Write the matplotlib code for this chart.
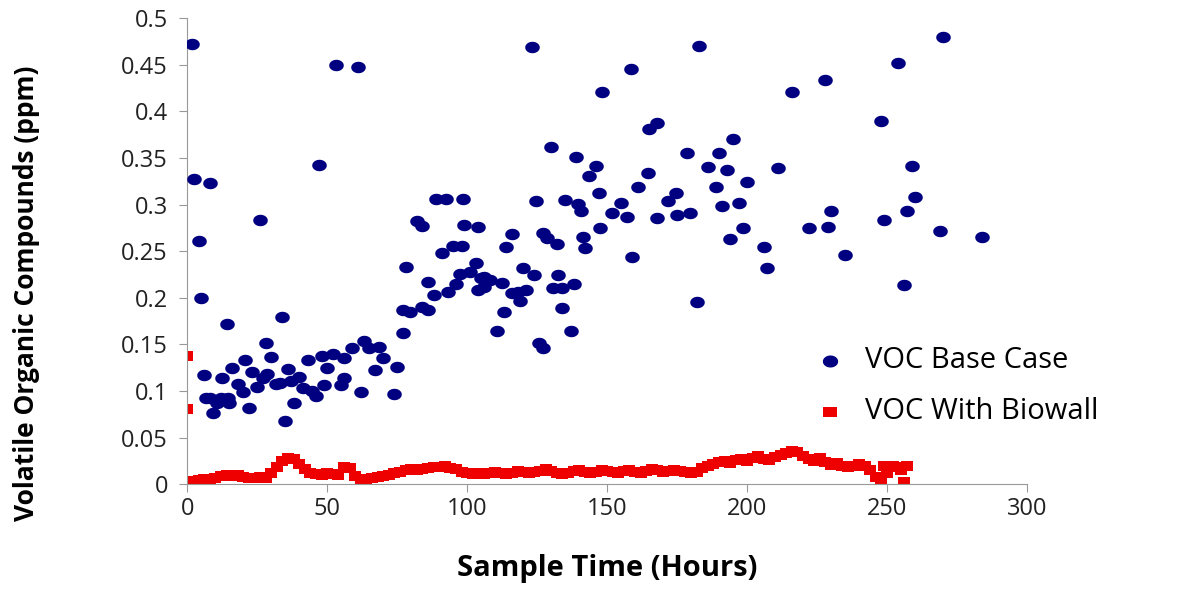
import matplotlib.pyplot as plt
from matplotlib.path import Path
import numpy as np

plt.rcParams['font.family'] = ['Open Sans', 'DejaVu Sans']

# VOC base case (hours, ppm)
base_t = [1.5, 2.5, 8, 4, 5, 26, 47, 53, 61, 14, 34, 28, 30, 6, 12.5, 20.7, 16, 23, 28.5, 36,
          43, 48, 52, 50, 56, 59, 63, 65, 68.5, 70, 67, 75, 74, 62, 56, 55, 49, 46, 41.5, 40,
          38, 35, 31.5, 25, 20, 22, 18, 14.6, 12, 8, 9, 6.5, 10.6, 15, 33, 37, 27, 44.6, 78, 77,
          79.6, 84, 86, 86, 88, 93, 96, 97.5, 77, 91, 89, 92.5, 98.6, 82, 84, 99, 95, 98, 104, 116,
          114, 103, 101, 105, 108, 112.5, 106, 104, 118, 120, 119, 113, 123, 183, 158.6, 148, 168, 165, 195, 130,
          178.6, 190, 139, 146, 186, 193, 143.6, 164.6, 200, 161, 189, 147, 174.6, 171.8, 124.6, 135, 139.6, 155, 197, 191,
          140.7, 151.8, 157, 168, 175, 179.6, 127, 128.5, 147.5, 141.4, 142, 132, 198.6, 194, 159, 124, 132.5, 130.7, 134, 138,
          121, 134, 137, 125.5, 127, 182, 106, 116, 110.7, 270, 254, 228, 216, 248, 211, 259, 260, 230, 257, 249,
          222, 229, 269, 284, 206, 235, 207, 256]
base_voc = [0.472, 0.327, 0.323, 0.261, 0.200, 0.284, 0.342, 0.450, 0.448, 0.172, 0.179, 0.152, 0.136, 0.117, 0.114, 0.133, 0.125, 0.120, 0.118, 0.124,
            0.133, 0.138, 0.140, 0.125, 0.135, 0.146, 0.154, 0.146, 0.147, 0.135, 0.123, 0.126, 0.097, 0.099, 0.114, 0.106, 0.106, 0.095, 0.103, 0.115,
            0.087, 0.068, 0.108, 0.104, 0.099, 0.082, 0.108, 0.092, 0.093, 0.093, 0.076, 0.093, 0.087, 0.087, 0.109, 0.111, 0.114, 0.100, 0.233, 0.187,
            0.185, 0.190, 0.187, 0.217, 0.203, 0.206, 0.215, 0.226, 0.162, 0.248, 0.306, 0.306, 0.306, 0.282, 0.277, 0.278, 0.256, 0.256, 0.276, 0.269,
            0.254, 0.237, 0.228, 0.221, 0.219, 0.216, 0.212, 0.208, 0.206, 0.232, 0.197, 0.185, 0.469, 0.470, 0.446, 0.421, 0.388, 0.381, 0.370, 0.362,
            0.355, 0.355, 0.351, 0.341, 0.340, 0.337, 0.331, 0.334, 0.324, 0.319, 0.319, 0.312, 0.312, 0.304, 0.304, 0.305, 0.301, 0.302, 0.302, 0.298,
            0.293, 0.291, 0.287, 0.286, 0.289, 0.291, 0.270, 0.264, 0.275, 0.265, 0.253, 0.258, 0.275, 0.263, 0.244, 0.224, 0.224, 0.211, 0.211, 0.215,
            0.208, 0.189, 0.164, 0.152, 0.146, 0.196, 0.222, 0.205, 0.164, 0.480, 0.452, 0.434, 0.421, 0.390, 0.339, 0.341, 0.308, 0.293, 0.293, 0.284,
            0.275, 0.276, 0.272, 0.265, 0.254, 0.246, 0.232, 0.214]

# VOC with biowall, sampled about every 2 hours
wall_t = list(range(0, 258, 2)) + [0, 0, 249, 255, 257]
wall_voc = [0.002, 0.003, 0.004, 0.005, 0.006, 0.007,
            0.009, 0.010, 0.009, 0.010, 0.008, 0.007, 0.007, 0.008, 0.007,
            0.012, 0.018, 0.025, 0.028, 0.027, 0.022, 0.016, 0.012, 0.011, 0.010,
            0.012, 0.011, 0.010, 0.018, 0.017, 0.009, 0.006, 0.005, 0.007, 0.008,
            0.009, 0.010, 0.012, 0.013, 0.015, 0.016, 0.015, 0.016, 0.017, 0.018,
            0.018, 0.019, 0.017, 0.016, 0.013, 0.012, 0.011, 0.012, 0.011, 0.012,
            0.013, 0.012, 0.011, 0.012, 0.014, 0.013, 0.012, 0.013, 0.014, 0.016,
            0.014, 0.012, 0.011, 0.012, 0.014, 0.015, 0.013, 0.012, 0.013, 0.015,
            0.014, 0.013, 0.012, 0.014, 0.015, 0.013, 0.012, 0.014, 0.016, 0.015,
            0.013, 0.014, 0.015, 0.014, 0.013, 0.012, 0.013, 0.017, 0.020, 0.022,
            0.024, 0.025, 0.023, 0.026, 0.027, 0.025, 0.028, 0.030, 0.027, 0.026,
            0.029, 0.031, 0.033, 0.036, 0.034, 0.030, 0.027, 0.025, 0.028, 0.024,
            0.021, 0.023, 0.020, 0.018, 0.020, 0.022, 0.019, 0.015, 0.008, 0.002,
            0.012, 0.020, 0.018, 0.002,
            0.138, 0.081, 0.020, 0.015, 0.020]

# slightly wide markers, like the stretched original
th = np.linspace(0, 2 * np.pi, 40)
ellipse = Path(np.column_stack([1.27 * np.cos(th), np.sin(th)]), closed=True)
rect = Path([(-1.25, -1), (1.25, -1), (1.25, 1), (-1.25, 1), (-1.25, -1)], closed=True)

fig = plt.figure(figsize=(12.01, 5.89), dpi=100)
ax = fig.add_axes([0.156, 0.178, 0.699, 0.791])

ax.scatter(base_t, base_voc, s=110, marker=ellipse, color="#000080", linewidths=0,
           label="VOC Base Case", zorder=3)
ax.scatter(wall_t, wall_voc, s=85, marker=rect, color="#ee0000", linewidths=0,
           label="VOC With Biowall", zorder=2)

ax.set_xlim(0, 300)
ax.set_ylim(0, 0.5)
ax.set_xticks(np.arange(0, 301, 50))
ax.set_yticks(np.arange(0, 0.51, 0.05))
ax.set_yticklabels(["0", "0.05", "0.1", "0.15", "0.2", "0.25", "0.3", "0.35", "0.4", "0.45", "0.5"])
ax.tick_params(labelsize=17, color="#999999", length=6, labelcolor="#222222")
ax.tick_params(axis="y", pad=8)
ax.tick_params(axis="x", pad=3)
for s in ["top", "right"]:
    ax.spines[s].set_visible(False)
for s in ["left", "bottom"]:
    ax.spines[s].set_color("#999999")

ax.set_xlabel("Sample Time (Hours)", fontsize=21, fontweight="bold")
ax.xaxis.set_label_coords(0.5, -0.15)
ax.set_ylabel("Volatile Organic Compounds (ppm)", fontsize=19, fontweight="bold")
ax.yaxis.set_label_coords(-0.175, 0.41)

ax.legend(loc="center left", bbox_to_anchor=(0.713, 0.21), frameon=False, fontsize=21,
          handletextpad=0.2, labelspacing=0.75, markerscale=1.05, borderpad=0)

fig.savefig("out.png", dpi=100)
